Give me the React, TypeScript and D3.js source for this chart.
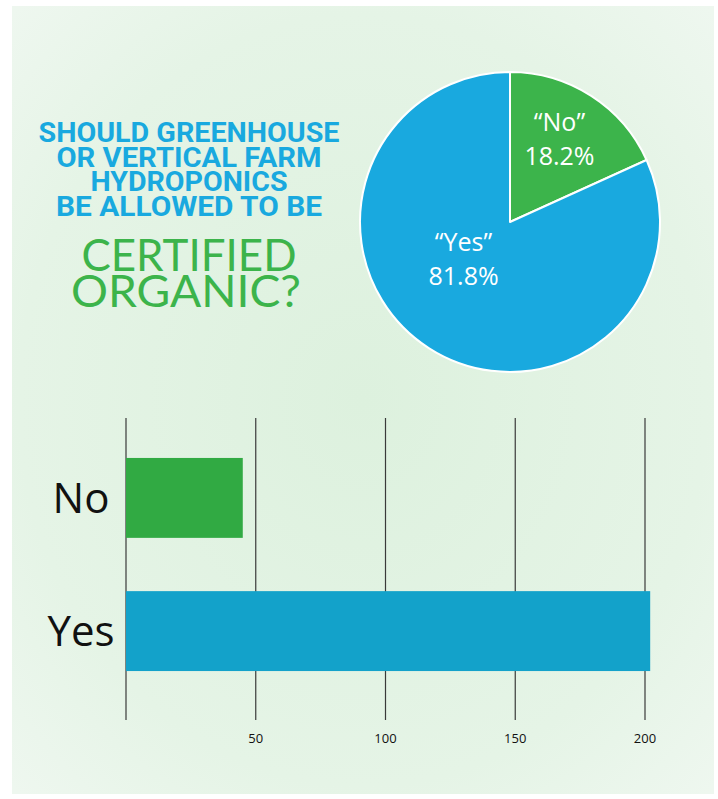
import React from "react";
import * as d3 from "d3";

const categories = ["No", "Yes"];
const counts = [45, 202];
const pieLabels = ["\u201CNo\u201D", "\u201CYes\u201D"];
const tickValues = [50, 100, 150, 200];
const titleLines = ["SHOULD GREENHOUSE", "OR VERTICAL FARM", "HYDROPONICS", "BE ALLOWED TO BE"];
const titleBig = ["CERTIFIED", "ORGANIC?"];

const W = 718;
const H = 799;
const BLUE = "#19a9df";
const GREEN = "#3cb44b";
const BAR_GREEN = "#31aa43";
const BAR_BLUE = "#13a2ca";

export default function App() {
  const total = d3.sum(counts);
  const pct = d3.format(".1%");
  const pieData = d3
    .pie<number>()
    .sort(null)
    .value((d) => d)(counts);
  const cx = 510, cy = 222, r = 150;
  const arc = d3.arc<d3.PieArcDatum<number>>().innerRadius(0).outerRadius(r);
  const labelArc = d3.arc<d3.PieArcDatum<number>>().innerRadius(95).outerRadius(95);
  const labelShift = [[-2, 0], [5, -40]];
  const pieColors = [GREEN, BLUE];

  const x = d3.scaleLinear().domain([0, 200]).range([126, 645]);
  const y = d3.scaleBand<string>().domain(categories).range([418, 711]).paddingInner(0.4).paddingOuter(0.3);
  const barColors = [BAR_GREEN, BAR_BLUE];

  const titleWidths = [301, 265, 197, 266];
  const titleBase = [142, 167, 191, 216];
  const bigWidths = [215, 230];
  const bigBase = [271, 307];
  const titleCx = 189;

  return (
    <svg width={W} height={H} style={{ position: "absolute", left: 0, top: 0, background: "#fff" }}>
      <defs>
        <radialGradient id="bg" cx="50%" cy="50%" r="70%">
          <stop offset="0%" stopColor="#ddf1de" />
          <stop offset="70%" stopColor="#e5f4e6" />
          <stop offset="100%" stopColor="#eef7ef" />
        </radialGradient>
      </defs>
      <rect x={12} y={6} width={702} height={788} fill="url(#bg)" />

      {/* title */}
      <g fontFamily="'Liberation Sans Narrow', 'Roboto', sans-serif" fontWeight="bold" fill={BLUE} fontSize={28}>
        {titleLines.map((t, i) => (
          <text key={t} x={titleCx - titleWidths[i] / 2} y={titleBase[i]} textLength={titleWidths[i]} lengthAdjust="spacingAndGlyphs">
            {t}
          </text>
        ))}
      </g>
      <g fontFamily="Lato, 'Open Sans', sans-serif" fontWeight={400} fill={GREEN} fontSize={44}>
        {titleBig.map((t, i) => (
          <text key={t} x={titleCx - bigWidths[i] / 2 + (i === 0 ? 0 : -3)} y={bigBase[i]} textLength={bigWidths[i]} lengthAdjust="spacingAndGlyphs">
            {t}
          </text>
        ))}
      </g>

      {/* pie */}
      <g transform={`translate(${cx},${cy})`}>
        {pieData.map((d, i) => (
          <path key={i} d={arc(d) || ""} fill={pieColors[i]} stroke="#ffffff" strokeWidth={2} strokeLinejoin="round" />
        ))}
        {pieData.map((d, i) => {
          const [lx, ly] = labelArc.centroid(d);
          const px = lx + labelShift[i][0];
          const py = ly + labelShift[i][1];
          return (
            <g key={"l" + i} fill="#ffffff" fontFamily="'Open Sans', sans-serif" fontSize={25} textAnchor="middle">
              <text x={px} y={py - 11}>{pieLabels[i]}</text>
              <text x={px} y={py + 23}>{pct(counts[i] / total)}</text>
            </g>
          );
        })}
      </g>

      {/* bar chart */}
      <g>
        {[0, ...tickValues].map((t) => (
          <line key={t} x1={x(t)} x2={x(t)} y1={418} y2={720} stroke="#3a3a3a" strokeWidth={1.2} />
        ))}
        {categories.map((c, i) => (
          <rect key={c} x={x(0)} y={y(c)} width={x(counts[i]) - x(0)} height={y.bandwidth()} fill={barColors[i]} />
        ))}
        {tickValues.map((t) => (
          <text key={"t" + t} x={x(t)} y={743} textAnchor="middle" fontFamily="'Open Sans', sans-serif" fontSize={13} fill="#111">
            {t}
          </text>
        ))}
        {categories.map((c) => (
          <text key={"c" + c} x={81} y={(y(c) || 0) + y.bandwidth() / 2 + 15} textAnchor="middle" fontFamily="'Open Sans', sans-serif" fontSize={42} fill="#111">
            {c}
          </text>
        ))}
      </g>
    </svg>
  );
}
